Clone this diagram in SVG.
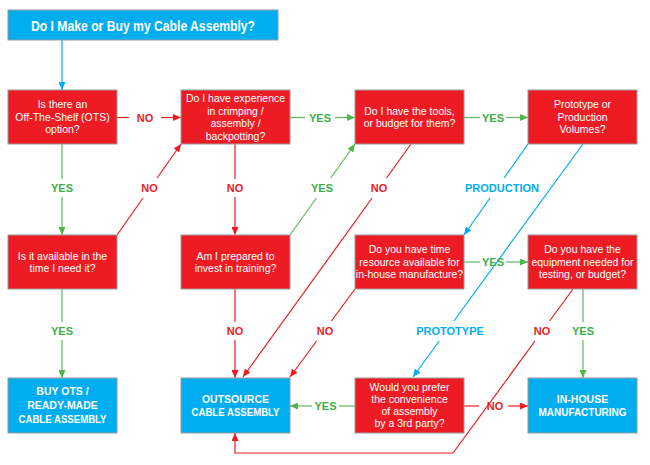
<svg xmlns="http://www.w3.org/2000/svg" width="650" height="465" viewBox="0 0 650 465">
<defs>
<style>
.br{fill:#ED1C24;stroke:#9a9a9a;stroke-width:1}
.bb{fill:#00AEEF;stroke:#9a9a9a;stroke-width:1}
.t{font-family:"Liberation Sans",Arial,sans-serif;font-size:10.5px;fill:#fff;text-anchor:middle}
.tb{font-weight:bold;font-size:10.5px}
.title{font-size:14px;font-weight:bold}
.lbl{font-family:"Liberation Sans",Arial,sans-serif;font-size:11px;font-weight:bold;text-anchor:middle}
.lr{fill:#ED1C24}.lg{fill:#3DAE49}.lb{fill:#00AEEF}
.cr{stroke:#ED1C24;fill:none;stroke-width:1.2}
.cg{stroke:#5BBA5F;fill:none;stroke-width:1.2}
.cb{stroke:#00AEEF;fill:none;stroke-width:1.2}
.ar{marker-end:url(#mr)}.ag{marker-end:url(#mg)}.ab{marker-end:url(#mb)}
</style>
<marker id="mr" markerUnits="userSpaceOnUse" markerWidth="8" markerHeight="7" refX="8" refY="3.5" orient="auto"><path d="M0,0 L8,3.5 L0,7 z" fill="#ED1C24"/></marker>
<marker id="mg" markerUnits="userSpaceOnUse" markerWidth="8" markerHeight="7" refX="8" refY="3.5" orient="auto"><path d="M0,0 L8,3.5 L0,7 z" fill="#4DB848"/></marker>
<marker id="mb" markerUnits="userSpaceOnUse" markerWidth="8" markerHeight="7" refX="8" refY="3.5" orient="auto"><path d="M0,0 L8,3.5 L0,7 z" fill="#00AEEF"/></marker>
</defs>
<rect width="650" height="465" fill="#fff"/>

<g id="connectors">
<path class="cb ab" d="M62,40 V90"/>
<path class="cr" d="M117,117.5 H129"/>
<path class="cr ar" d="M161,117.5 H181"/>
<text class="lbl lr" x="145" y="121.5">NO</text>
<path class="cg" d="M290,117.5 H305"/>
<path class="cg ag" d="M335,117.5 H355"/>
<text class="lbl lg" x="320" y="121.5">YES</text>
<path class="cg" d="M464,117.5 H480"/>
<path class="cg ag" d="M506,117.5 H528"/>
<text class="lbl lg" x="493" y="121.5">YES</text>
<path class="cg" d="M62,144 V179"/>
<path class="cg ag" d="M62,197 V235"/>
<text class="lbl lg" x="62" y="192">YES</text>
<path class="cr" d="M117,235 L143,198"/>
<path class="cr ar" d="M157.1,178 L181,144"/>
<text class="lbl lr" x="149.5" y="192">NO</text>
<path class="cr" d="M235,144 V179"/>
<path class="cr ar" d="M235,197 V235"/>
<text class="lbl lr" x="235" y="192">NO</text>
<path class="cg" d="M290,235 L316.4,198"/>
<path class="cg ag" d="M330.7,178 L355,144"/>
<text class="lbl lg" x="322" y="192">YES</text>
<path class="cr" d="M411,144 L386.5,178"/>
<path class="cr ar" d="M372.1,198 L243,377"/>
<text class="lbl lr" x="379" y="192">NO</text>
<path class="cb" d="M528,144 L504.1,178"/>
<path class="cb ab" d="M490,198 L464,235"/>
<text class="lbl lb" x="502" y="192">PRODUCTION</text>
<path class="cb" d="M583,144 L453.9,321"/>
<path class="cb ab" d="M439.3,341 L413,377"/>
<text class="lbl lb" x="450" y="335">PROTOTYPE</text>
<path class="cg" d="M464,262 H480"/>
<path class="cg ag" d="M506,262 H528"/>
<text class="lbl lg" x="493" y="266">YES</text>
<path class="cg" d="M62,289 V322"/>
<path class="cg ag" d="M62,340 V378"/>
<text class="lbl lg" x="62" y="335">YES</text>
<path class="cr" d="M235,289 V322"/>
<path class="cr ar" d="M235,340 V378"/>
<text class="lbl lr" x="235" y="335">NO</text>
<path class="cr" d="M355,289 L331.4,321"/>
<path class="cr ar" d="M316.6,341 L290,377"/>
<text class="lbl lr" x="325" y="335">NO</text>
<path class="cg" d="M583,289 V322"/>
<path class="cg ag" d="M583,340 V378"/>
<text class="lbl lg" x="583" y="335">YES</text>
<path class="cr" d="M573,289 L549.6,321"/>
<path class="cr ar" d="M535,341 L453,453 H235 V433"/>
<text class="lbl lr" x="542" y="335">NO</text>
<path class="cg" d="M355,406 H339"/>
<path class="cg ag" d="M312,406 H290"/>
<text class="lbl lg" x="325.5" y="410">YES</text>
<path class="cr" d="M464,406 H479"/>
<path class="cr ar" d="M508,406 H528"/>
<text class="lbl lr" x="495" y="410">NO</text>
</g>

<g id="title">
<rect class="bb" x="8" y="10" width="270" height="30"/>
<text class="t title" x="143" y="30.5" textLength="224" lengthAdjust="spacingAndGlyphs">Do I Make or Buy my Cable Assembly?</text>
</g>

<g id="n-ots">
<rect class="br" x="8" y="90" width="109" height="54"/>
<text class="t" x="62.5" y="108">Is there an</text>
<text class="t" x="62.5" y="120.5">Off-The-Shelf (OTS)</text>
<text class="t" x="62.5" y="133">option?</text>
</g>

<g id="n-experience">
<rect class="br" x="181" y="90" width="109" height="54"/>
<text class="t" x="235.5" y="102">Do I have experience</text>
<text class="t" x="235.5" y="114.5">in crimping /</text>
<text class="t" x="235.5" y="127">assembly /</text>
<text class="t" x="235.5" y="139.5">backpotting?</text>
</g>

<g id="n-tools">
<rect class="br" x="355" y="90" width="109" height="54"/>
<text class="t" x="409.5" y="114.5">Do I have the tools,</text>
<text class="t" x="409.5" y="127">or budget for them?</text>
</g>

<g id="n-volumes">
<rect class="br" x="528" y="90" width="109" height="54"/>
<text class="t" x="582.5" y="108">Prototype or</text>
<text class="t" x="582.5" y="120.5">Production</text>
<text class="t" x="582.5" y="133">Volumes?</text>
</g>

<g id="n-available">
<rect class="br" x="8" y="235" width="109" height="54"/>
<text class="t" x="62.5" y="259.5">Is it available in the</text>
<text class="t" x="62.5" y="272">time I need it?</text>
</g>

<g id="n-training">
<rect class="br" x="181" y="235" width="109" height="54"/>
<text class="t" x="235.5" y="259.5">Am I prepared to</text>
<text class="t" x="235.5" y="272">invest in training?</text>
</g>

<g id="n-time">
<rect class="br" x="355" y="235" width="109" height="54"/>
<text class="t" x="409.5" y="253">Do you have time</text>
<text class="t" x="409.5" y="265.5">resource available for</text>
<text class="t" x="409.5" y="278">in-house manufacture?</text>
</g>

<g id="n-equipment">
<rect class="br" x="528" y="235" width="109" height="54"/>
<text class="t" x="582.5" y="253">Do you have the</text>
<text class="t" x="582.5" y="265.5">equipment needed for</text>
<text class="t" x="582.5" y="278">testing, or budget?</text>
</g>

<g id="n-buy">
<rect class="bb" x="8" y="378" width="109" height="55"/>
<text class="t tb" x="62.5" y="395">BUY OTS /</text>
<text class="t tb" x="62.5" y="409">READY-MADE</text>
<text class="t tb" x="62.5" y="423" textLength="88" lengthAdjust="spacingAndGlyphs">CABLE ASSEMBLY</text>
</g>

<g id="n-outsource">
<rect class="bb" x="181" y="378" width="109" height="55"/>
<text class="t tb" x="235.5" y="402.5">OUTSOURCE</text>
<text class="t tb" x="235.5" y="416" textLength="88" lengthAdjust="spacingAndGlyphs">CABLE ASSEMBLY</text>
</g>

<g id="n-prefer">
<rect class="br" x="355" y="378" width="109" height="55"/>
<text class="t" x="409.5" y="391">Would you prefer</text>
<text class="t" x="409.5" y="403">the convenience</text>
<text class="t" x="409.5" y="415">of assembly</text>
<text class="t" x="409.5" y="427">by a 3rd party?</text>
</g>

<g id="n-inhouse">
<rect class="bb" x="528" y="378" width="109" height="55"/>
<text class="t tb" x="582.5" y="402.5">IN-HOUSE</text>
<text class="t tb" x="582.5" y="416" textLength="88" lengthAdjust="spacingAndGlyphs">MANUFACTURING</text>
</g>
</svg>
